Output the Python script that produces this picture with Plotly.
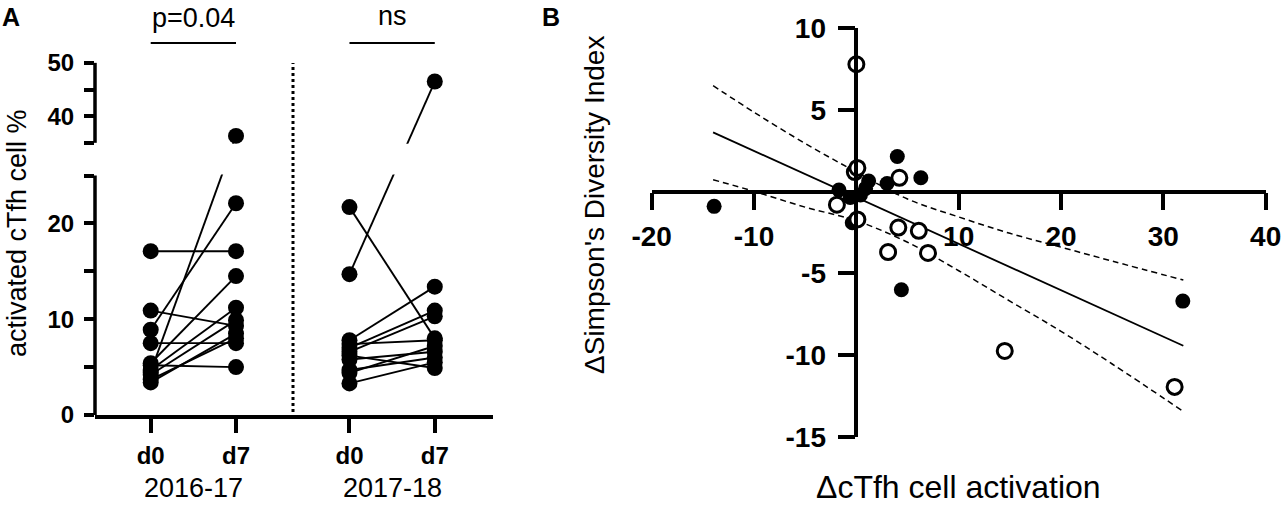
import plotly.graph_objects as go

# panel A: activated cTfh cell % at d0 and d7, one pair per subject
d0_1617 = [17.1, 10.9, 8.9, 7.5, 5.4, 5.2, 4.7, 4.5, 4.2, 3.4, 3.7]
d7_1617 = [17.1, 9.3, 22.1, 7.5, 14.5, 5.0, 11.2, 36.3, 9.9, 8.5, 8.0]

d0_1718 = [21.7, 14.7, 7.8, 7.4, 7.0, 6.6, 6.2, 5.8, 4.7, 4.4, 3.3]
d7_1718 = [8.0, 46.5, 13.4, 7.8, 10.9, 10.3, 4.9, 6.6, 6.0, 7.2, 5.5]

seasons = ["2016-17", "2017-18"]
days = ["d0", "d7"]
y_ticks_a = [0, 5, 10, 15, 20, 25, 35, 40, 45, 50]
y_labels_a = ["0", "", "10", "", "20", "", "", "40", "", "50"]

# panel B: delta Simpson's index vs delta cTfh activation
filled_x = [-13.9, -1.7, -0.6, 0.4, 1.2, 3.0, 4.0, 6.3, -0.4, 4.4, 31.9, 0.9]
filled_y = [-0.9, 0.1, -0.35, -0.2, 0.65, 0.5, 2.15, 0.85, -1.9, -6.0, -6.7, 0.2]
open_x = [0.0, -0.15, 0.1, 4.2, -1.9, 0.1, 4.1, 6.1, 3.1, 7.0, 14.5, 31.1]
open_y = [7.8, 1.2, 1.45, 0.85, -0.8, -1.7, -2.2, -2.4, -3.7, -3.75, -9.75, -11.95]

fit_x = [-14, 31.95]
fit_y = [3.63, -9.43]
ci_x = [-14, -10, -5, 0, 5, 10, 15, 20, 25, 31.95]
ci_upper = [6.49, 4.86, 2.95, 1.2, -0.45, -1.55, -2.55, -3.4, -4.25, -5.41]
ci_lower = [0.73, 0.02, -0.95, -1.78, -3.1, -4.84, -6.7, -8.55, -10.55, -13.45]

x_ticks_b = [-20, -10, 10, 20, 30, 40]
y_ticks_b = [-15, -10, -5, 5, 10]

W, H = 1281, 506
FONT = "Liberation Sans, Arial, sans-serif"


def fx(p):
    return p / W


def fy(p):
    return 1 - p / H


# broken y axis for panel A: 0-25 linear, 35-50 compressed above a gap
GAP = 3.41
K = 0.5565


def brk(v):
    return v if v <= 25 else 25 + GAP + (v - 35) * K


pos = {"2016-17": (0, 1), "2017-18": (2.33, 3.33)}
A_SCALE = 9.58  # px per unit on lower segment

fig = go.Figure()

for season, d0, d7 in [("2016-17", d0_1617, d7_1617), ("2017-18", d0_1718, d7_1718)]:
    p0, p1 = pos[season]
    for a, b in zip(d0, d7):
        fig.add_trace(go.Scatter(
            x=[p0, p1], y=[brk(a), brk(b)], mode="lines+markers",
            line=dict(color="black", width=1.9),
            marker=dict(size=16, color="black"),
            xaxis="x", yaxis="y", showlegend=False, cliponaxis=False,
        ))

# panel B
fig.add_trace(go.Scatter(x=ci_x, y=ci_upper, mode="lines", line=dict(color="black", width=1.5, dash="6px,4px", shape="spline"),
                         xaxis="x2", yaxis="y2", showlegend=False))
fig.add_trace(go.Scatter(x=ci_x, y=ci_lower, mode="lines", line=dict(color="black", width=1.5, dash="6px,4px", shape="spline"),
                         xaxis="x2", yaxis="y2", showlegend=False))
fig.add_trace(go.Scatter(x=fit_x, y=fit_y, mode="lines", line=dict(color="black", width=1.8),
                         xaxis="x2", yaxis="y2", showlegend=False))
fig.add_trace(go.Scatter(x=filled_x, y=filled_y, mode="markers",
                         marker=dict(size=15, color="black"),
                         xaxis="x2", yaxis="y2", showlegend=False, cliponaxis=False))
fig.add_trace(go.Scatter(x=open_x, y=open_y, mode="markers",
                         marker=dict(size=15, color="white", line=dict(color="black", width=3)),
                         xaxis="x2", yaxis="y2", showlegend=False, cliponaxis=False))

# layout geometry (pixels of the original)
a_left, a_right, a_base = 95, 493.3, 415
b_x0, b_x1 = 651.7, 1265.7   # -20 .. 40
b_y0, b_y1 = 436.7, 28.3     # -15 .. 10
bx_dom = [fx(b_x0), fx(b_x1)]
by_dom = [fy(b_y0), fy(b_y1)]
b_xpos = by_dom[0] + (0 - (-15)) / 25 * (by_dom[1] - by_dom[0])
b_ypos = bx_dom[0] + (0 - (-20)) / 60 * (bx_dom[1] - bx_dom[0])

tickpos = list(pos["2016-17"]) + list(pos["2017-18"])

fig.update_layout(
    width=W, height=H,
    margin=dict(l=0, r=0, t=0, b=0, autoexpand=False),
    paper_bgcolor="white", plot_bgcolor="white",
    font=dict(family=FONT, color="black"),
    xaxis=dict(
        domain=[fx(a_left), fx(a_right)], range=[-0.653, 4.016], anchor="y", automargin=False,
        showgrid=False, zeroline=False, showline=True, linecolor="black", linewidth=3.5,
        ticks="outside", ticklen=14, tickwidth=3.5, tickcolor="black",
        tickvals=tickpos, ticktext=days * 2, ticklabelstandoff=2,
        tickfont=dict(size=24, weight="bold", family=FONT),
    ),
    yaxis=dict(
        domain=[fy(a_base), 1], range=[0, a_base / A_SCALE], anchor="x", automargin=False,
        showgrid=False, zeroline=False, showline=False,
        ticks="outside", ticklen=10, tickwidth=3.5, tickcolor="black",
        tickvals=[brk(v) for v in y_ticks_a], ticktext=y_labels_a, ticklabelstandoff=5,
        tickfont=dict(size=24, weight="bold", family=FONT),
    ),
    xaxis2=dict(
        domain=bx_dom, range=[-20, 40], anchor="free", position=b_xpos, automargin=False,
        showgrid=False, zeroline=False, showline=True, linecolor="black", linewidth=3.5,
        ticks="outside", ticklen=17, tickwidth=3.5, tickcolor="black",
        tickvals=x_ticks_b, ticktext=[str(v) for v in x_ticks_b],
        ticklabelstandoff=2, ticklabeloverflow="allow",
        tickfont=dict(size=28, weight="bold", family=FONT),
    ),
    yaxis2=dict(
        domain=by_dom, range=[-15, 10], anchor="free", position=b_ypos, automargin=False,
        showgrid=False, zeroline=False, showline=True, linecolor="black", linewidth=3.5,
        ticks="outside", ticklen=17, tickwidth=3.5, tickcolor="black",
        tickvals=y_ticks_b, ticktext=[str(v) for v in y_ticks_b],
        ticklabelstandoff=6, ticklabeloverflow="allow",
        tickfont=dict(size=28, weight="bold", family=FONT),
    ),
)

shapes = [
    # hide the break zone of panel A
    dict(type="rect", xref="x domain", yref="y", x0=0.006, x1=1, y0=25.1, y1=brk(35) - 0.1,
         fillcolor="white", line=dict(width=0), layer="above"),
    # dotted separator
    dict(type="line", xref="x", yref="y", x0=1.668, x1=1.668,
         y0=(a_base - 412) / A_SCALE, y1=(a_base - 63) / A_SCALE,
         line=dict(color="black", width=3, dash="dot"), layer="above"),
    # broken y axis line
    dict(type="line", xref="x domain", yref="y", x0=0, x1=0, y0=0, y1=25,
         line=dict(color="black", width=3.5), layer="above"),
    dict(type="line", xref="x domain", yref="y", x0=0, x1=0, y0=brk(35), y1=brk(50),
         line=dict(color="black", width=3.5), layer="above"),
    # significance brackets
    dict(type="line", xref="x", yref="paper", x0=pos["2016-17"][0], x1=pos["2016-17"][1],
         y0=fy(43), y1=fy(43), line=dict(color="black", width=2.2)),
    dict(type="line", xref="x", yref="paper", x0=pos["2017-18"][0], x1=pos["2017-18"][1],
         y0=fy(43), y1=fy(43), line=dict(color="black", width=2.2)),
]
fig.update_layout(shapes=shapes)

annotations = [
    dict(text="<b>A</b>", x=fx(11), y=fy(17), font=dict(size=25)),
    dict(text="<b>B</b>", x=fx(551), y=fy(17), font=dict(size=25)),
    dict(text="p=0.04", x=sum(pos["2016-17"]) / 2, xref="x", y=fy(18), font=dict(size=27)),
    dict(text="ns", x=sum(pos["2017-18"]) / 2, xref="x", y=fy(16), font=dict(size=27)),
    dict(text="activated cTfh cell %", x=fx(17), y=fy(233), textangle=-90, font=dict(size=27)),
    dict(text="2016-17", x=sum(pos["2016-17"]) / 2, xref="x", y=fy(488), font=dict(size=27)),
    dict(text="2017-18", x=sum(pos["2017-18"]) / 2, xref="x", y=fy(488), font=dict(size=27)),
    dict(text="ΔSimpson's Diversity Index", x=fx(594), y=fy(205), textangle=-90, font=dict(size=28)),
    dict(text="ΔcTfh cell activation", x=fx(958), y=fy(487), font=dict(size=32)),
]
for a in annotations:
    a.setdefault("xref", "paper")
    a.setdefault("yref", "paper")
    a["showarrow"] = False
    a["xanchor"] = "center"
    a["yanchor"] = "middle"
    a["font"] = dict(family=FONT, color="black", **a["font"])
fig.update_layout(annotations=annotations)

# the page body has a default 8px margin; drop it so the figure fills the window
fig.write_html("out.html", config={"displayModeBar": False},
               post_script="document.body.style.margin='0';")
